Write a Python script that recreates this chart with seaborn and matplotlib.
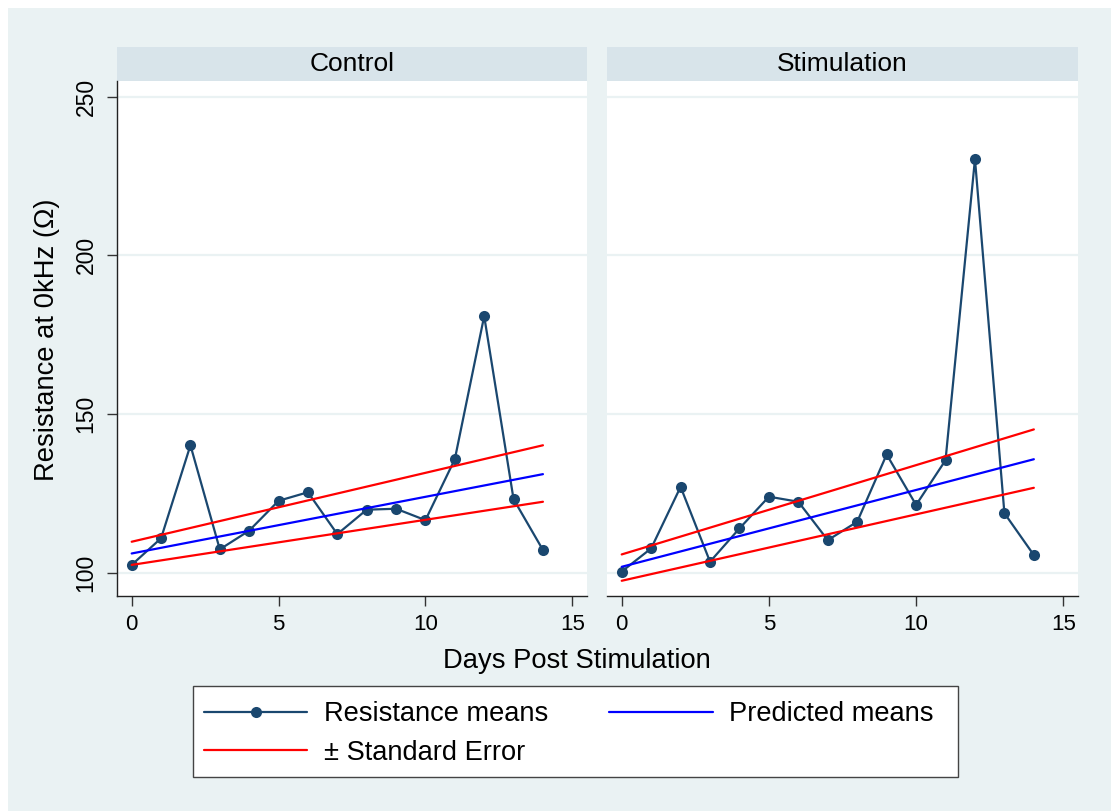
import numpy as np
import pandas as pd
import matplotlib
matplotlib.use("Agg")
import matplotlib.pyplot as plt
import seaborn as sns
from matplotlib.patches import Rectangle
from matplotlib.lines import Line2D

# ---------------- data ----------------
groups = ["Control", "Stimulation"]
days = list(range(15))
control_means = [102.4, 110.8, 140.1, 107.3, 113.2, 122.6, 125.3, 112.1,
                 119.8, 120.1, 116.5, 135.7, 180.8, 123.1, 107.1]
stim_means = [100.3, 107.6, 127.0, 103.4, 113.9, 123.9, 122.3, 110.2,
              116.0, 137.2, 121.3, 135.4, 230.3, 118.7, 105.5]
fit_days = [0, 14]
control_pred = [106.0, 131.0]
control_upper = [109.7, 140.1]
control_lower = [102.4, 122.3]
stim_pred = [101.8, 135.7]
stim_upper = [105.7, 145.1]
stim_lower = [97.4, 126.7]
x_ticks = [0, 5, 10, 15]
y_ticks = [100, 150, 200, 250]
legend_labels = ["Resistance means", "Predicted means", "\u00b1 Standard Error"]
x_title = "Days Post Stimulation"
y_title = "Resistance at 0kHz (\u03a9)"

means_df = pd.DataFrame({
    "group": [groups[0]] * len(days) + [groups[1]] * len(days),
    "day": days + days,
    "value": control_means + stim_means,
})
fit_rows = []
for grp, pred, up, lo in [(groups[0], control_pred, control_upper, control_lower),
                          (groups[1], stim_pred, stim_upper, stim_lower)]:
    for kind, vals in [("pred", pred), ("upper", up), ("lower", lo)]:
        for d, v in zip(fit_days, vals):
            fit_rows.append({"group": grp, "kind": kind, "day": d, "value": v})
fit_df = pd.DataFrame(fit_rows)

# ---------------- style ----------------
BG = "#EAF2F3"
STRIP = "#D8E4EA"
NAVY = "#1A476F"
sns.set_style("white")
plt.rcParams["font.family"] = ["Liberation Sans", "DejaVu Sans"]
plt.rcParams["text.color"] = "black"
plt.rcParams["xtick.color"] = "black"
plt.rcParams["ytick.color"] = "black"
plt.rcParams["axes.labelcolor"] = "black"

W, H = 1111, 811
g = sns.FacetGrid(means_df, col="group", col_order=groups, sharey=True, sharex=True)
fig = g.figure
fig.set_size_inches(W / 100, H / 100)
fig.set_dpi(100)
fig.patch.set_facecolor("white")
fig.add_artist(Rectangle((8 / W, 0), 1, 1 - 8 / H, transform=fig.transFigure,
                         facecolor=BG, edgecolor="none", zorder=-10))

positions = [(117, 587), (607, 1078)]
top_px, bot_px = 81, 596
for i, (ax, grp) in enumerate(zip(g.axes.flat, groups)):
    l, r = positions[i]
    ax.set_position([l / W, (H - bot_px) / H, (r - l) / W, (bot_px - top_px) / H])
    ax.set_facecolor("white")
    sub = means_df[means_df["group"] == grp]
    sns.lineplot(data=sub, x="day", y="value", ax=ax, color=NAVY, lw=1.6,
                 marker="o", markersize=8, markeredgewidth=0, zorder=3)
    fsub = fit_df[fit_df["group"] == grp]
    for kind, col in [("upper", "#FF0000"), ("lower", "#FF0000"), ("pred", "#0000FF")]:
        sns.lineplot(data=fsub[fsub["kind"] == kind], x="day", y="value", ax=ax,
                     color=col, lw=1.6, zorder=4)
    ax.set_xlim(-0.5, 15.5)
    ax.set_ylim(92.6, 254.9)
    ax.set_xticks(x_ticks)
    ax.set_yticks(y_ticks)
    ax.grid(axis="y", color=BG, lw=1.6, zorder=0)
    ax.grid(axis="x", visible=False)
    ax.set_xlabel("")
    ax.set_ylabel("")
    ax.set_title("")
    for s in ["top", "right"]:
        ax.spines[s].set_visible(False)
    ax.spines["bottom"].set_color("#222222")
    ax.spines["bottom"].set_linewidth(1.0)
    ax.spines["left"].set_color("#222222")
    ax.spines["left"].set_linewidth(1.0)
    ax.tick_params(axis="x", direction="out", length=7, width=1, color="#333333",
                   labelcolor="black", pad=6, labelsize=16, bottom=True)
    if i == 0:
        ax.tick_params(axis="y", direction="out", length=7, width=1, color="#333333",
                       labelcolor="black", pad=7, labelsize=16.5, left=True,
                       labelrotation=90)
        for t in ax.get_yticklabels():
            t.set_verticalalignment("center")
    else:
        ax.spines["left"].set_visible(False)
        ax.tick_params(axis="y", left=False, labelleft=False)
    # strip header
    strip_h = 34 / (bot_px - top_px)
    ax.add_patch(Rectangle((0, 1), 1, strip_h, transform=ax.transAxes,
                           facecolor=STRIP, edgecolor="none", clip_on=False))
    ax.text(0.5, 1 + strip_h / 2, grp, transform=ax.transAxes, ha="center",
            va="center", fontsize=19, color="black")
    if ax.get_legend() is not None:
        ax.get_legend().remove()

fig.text(47 / W, 1 - 340 / H, y_title, rotation=90, ha="center", va="center",
         fontsize=19.7, color="black")
fig.text(577 / W, 1 - 661 / H, x_title, ha="center", va="center", fontsize=19.7,
         color="black")

# legend frame (drawn separately) + legend content
fig.add_artist(Rectangle((193 / W, (H - 777) / H), (958 - 193) / W, (777 - 686) / H,
                         transform=fig.transFigure, facecolor="white",
                         edgecolor="#444444", lw=1.0, zorder=5))
handles = [
    Line2D([], [], color=NAVY, lw=1.6, marker="o", markersize=8, markeredgewidth=0),
    Line2D([], [], color="#FF0000", lw=1.6),
    Line2D([], [], color="#0000FF", lw=1.6),
]
labels = [legend_labels[0], legend_labels[2], legend_labels[1]]
leg = fig.legend(handles, labels, ncol=2, loc="center left",
                 bbox_to_anchor=(193 / W, 1 - 733.5 / H),
                 fontsize=19.6, frameon=False, handlelength=3.8,
                 handletextpad=0.6, borderpad=0.4, labelspacing=0.45,
                 columnspacing=2.25, borderaxespad=0)
leg.set_zorder(6)
for t in leg.get_texts():
    t.set_color("black")

fig.savefig("out.png", dpi=100, facecolor=fig.get_facecolor())
